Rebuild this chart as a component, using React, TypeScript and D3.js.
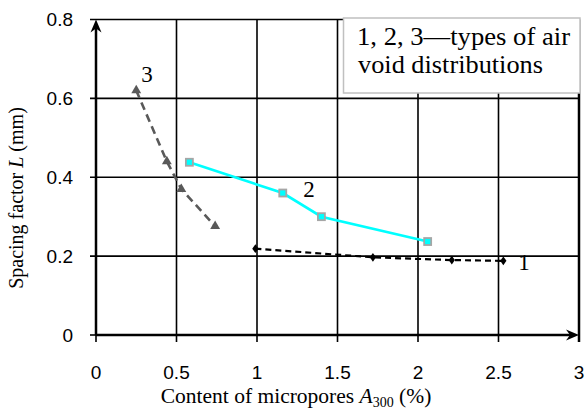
import React from 'react';
import * as d3 from 'd3';

const xTicks = [0, 0.5, 1, 1.5, 2, 2.5, 3];
const xTickLabels = ['0', '0.5', '1', '1.5', '2', '2.5', '3'];
const yTicks = [0, 0.2, 0.4, 0.6, 0.8];
const yTickLabels = ['0', '0.2', '0.4', '0.6', '0.8'];

const s1x = [0.99, 1.72, 2.21, 2.53];
const s1y = [0.219, 0.197, 0.19, 0.188];
const s2x = [0.58, 1.16, 1.4, 2.06];
const s2y = [0.438, 0.36, 0.3, 0.237];
const s3x = [0.25, 0.44, 0.53, 0.74];
const s3y = [0.62, 0.44, 0.37, 0.276];

const legendLines = ['1, 2, 3—types of air', 'void distributions'];

const W = 585;
const H = 412;
const SERIF = "'Liberation Serif', 'Times New Roman', serif";
const SANS = "'Liberation Sans', Arial, sans-serif";

export default function App() {
  const x = d3.scaleLinear().domain([0, 3]).range([96, 579]);
  const y = d3.scaleLinear().domain([0, 0.8]).range([335, 19.5]);
  const line = d3
    .line<[number, number]>()
    .x((d) => x(d[0]))
    .y((d) => y(d[1]));
  const p1 = s1x.map((v, i) => [v, s1y[i]] as [number, number]);
  const p2 = s2x.map((v, i) => [v, s2y[i]] as [number, number]);
  const p3 = s3x.map((v, i) => [v, s3y[i]] as [number, number]);
  const tri = d3.symbol().type(d3.symbolTriangle).size(42)()!;
  const dia = d3.symbol().type(d3.symbolDiamond).size(34)()!;

  const x0 = x(0), x3 = x(3), y0 = y(0), yTop = y(0.8);

  return (
    <svg width={W} height={H} style={{ position: 'absolute', left: 0, top: 0, background: '#fff' }}>
      {/* grid */}
      {xTicks.slice(1).map((t) => (
        <line key={'gx' + t} x1={x(t)} x2={x(t)} y1={yTop} y2={y0 + 7} stroke="#000" strokeWidth={t === 3 ? 2.5 : 1.6} />
      ))}
      {yTicks.slice(1).map((t) => (
        <line key={'gy' + t} x1={x0 - 6} x2={x3} y1={y(t)} y2={y(t)} stroke="#000" strokeWidth={1.6} />
      ))}
      <line x1={x0} x2={x0} y1={y0} y2={y0 + 7} stroke="#000" strokeWidth={1.6} />
      <line x1={x0 - 6} x2={x0} y1={y0} y2={y0} stroke="#000" strokeWidth={1.6} />
      {/* axes */}
      <line x1={x0} x2={x0} y1={y0} y2={yTop + 8} stroke="#000" strokeWidth={2.5} />
      <path d={`M${x0},${yTop} L${x0 - 5.5},${yTop + 13} L${x0},${yTop + 9} L${x0 + 5.5},${yTop + 13} Z`} fill="#000" />
      <line x1={x0} x2={x3 - 8} y1={y0} y2={y0} stroke="#000" strokeWidth={2.5} />
      <path d={`M${x3},${y0} L${x3 - 13},${y0 - 5.5} L${x3 - 9},${y0} L${x3 - 13},${y0 + 5.5} Z`} fill="#000" />

      {/* legend box */}
      <rect x={343.5} y={18} width={236.5} height={75} fill="#fff" stroke="#c0c0c0" strokeWidth={1.5} />
      <text x={357} y={45} fontFamily={SERIF} fontSize={24.5} fill="#000" textLength={213} lengthAdjust="spacingAndGlyphs">
        {legendLines[0]}
      </text>
      <text x={358} y={72.5} fontFamily={SERIF} fontSize={24.5} fill="#000" textLength={185} lengthAdjust="spacingAndGlyphs">
        {legendLines[1]}
      </text>

      {/* series 3 */}
      <path d={line(p3)!} fill="none" stroke="#595959" strokeWidth={2.6} strokeDasharray="8,5" />
      {p3.map((d, i) => (
        <path key={'t' + i} d={tri} transform={`translate(${x(d[0])},${y(d[1])})`} fill="#595959" />
      ))}
      {/* series 1 */}
      <path d={line(p1)!} fill="none" stroke="#000" strokeWidth={2.2} strokeDasharray="6,4" />
      {p1.map((d, i) => (
        <path key={'d' + i} d={dia} transform={`translate(${x(d[0])},${y(d[1])}) scale(1,0.8)`} fill="#000" />
      ))}
      {/* series 2 */}
      <path d={line(p2)!} fill="none" stroke="#00ffff" strokeWidth={2.6} />
      {p2.map((d, i) => (
        <rect key={'s' + i} x={x(d[0]) - 3.5} y={y(d[1]) - 3.5} width={7} height={7} fill="#00ffff" stroke="#a6a6a6" strokeWidth={1.8} />
      ))}

      {/* series labels */}
      <text x={147} y={82} textAnchor="middle" fontFamily={SERIF} fontSize={23} fill="#000">3</text>
      <text x={309} y={197} textAnchor="middle" fontFamily={SERIF} fontSize={23} fill="#000">2</text>
      <text x={524} y={270} textAnchor="middle" fontFamily={SERIF} fontSize={23} fill="#000">1</text>

      {/* tick labels */}
      {yTicks.map((t, i) => (
        <text key={'yl' + t} x={73} y={y(t)} dy="0.36em" textAnchor="end" fontFamily={SANS} fontSize={19} fill="#000">
          {yTickLabels[i]}
        </text>
      ))}
      {xTicks.map((t, i) => (
        <text key={'xl' + t} x={x(t)} y={372} dy="0.36em" textAnchor="middle" fontFamily={SANS} fontSize={19} fill="#000">
          {xTickLabels[i]}
        </text>
      ))}

      {/* axis titles */}
      <text x={296} y={403} textAnchor="middle" fontFamily={SERIF} fontSize={21.5} fill="#000">
        Content of micropores <tspan fontStyle="italic">A</tspan>
        <tspan fontSize={14} dy={4}>300</tspan>
        <tspan dy={-4}> (%)</tspan>
      </text>
      <text transform="translate(23,198) rotate(-90)" textAnchor="middle" fontFamily={SERIF} fontSize={20} fill="#000">
        Spacing factor <tspan fontStyle="italic">L</tspan> (mm)
      </text>
    </svg>
  );
}
